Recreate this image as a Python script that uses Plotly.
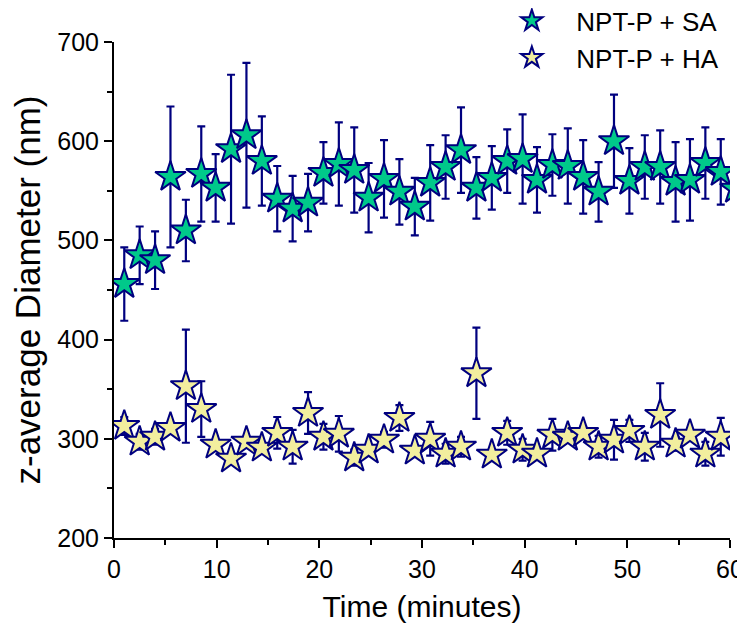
import plotly.graph_objects as go

# ---- data ----
time_sa = [1.0, 2.5, 4.0, 5.5, 7.0, 8.5, 9.9, 11.4, 12.9, 14.4, 15.9, 17.4, 18.9, 20.4,
           21.9, 23.4, 24.8, 26.3, 27.8, 29.3, 30.8, 32.3, 33.8, 35.3, 36.8, 38.3, 39.8,
           41.2, 42.7, 44.2, 45.7, 47.2, 48.7, 50.2, 51.7, 53.2, 54.7, 56.1, 57.6, 59.1, 60.5]
sa_mean = [456, 485, 480, 564, 510, 567, 553, 592, 606, 580, 542, 532, 538, 568,
           577, 571, 543, 562, 549, 534, 558, 574, 591, 553, 563, 580, 582,
           561, 576, 575, 564, 549, 600, 560, 574, 574, 559, 561, 578, 569, 552]
sa_err = [37, 29, 29, 71, 31, 48, 34, 75, 73, 45, 33, 33, 29, 31,
          42, 43, 35, 39, 33, 29, 38, 32, 43, 31, 32, 32, 45,
          33, 31, 38, 37, 30, 47, 33, 32, 37, 40, 41, 36, 33, 35]

time_ha = [1.0, 2.5, 4.0, 5.5, 7.0, 8.5, 9.9, 11.4, 12.9, 14.4, 15.9, 17.4, 18.9, 20.4,
           21.9, 23.4, 24.8, 26.3, 27.8, 29.3, 30.8, 32.3, 33.8, 35.3, 36.8, 38.3, 39.8,
           41.2, 42.7, 44.2, 45.7, 47.2, 48.7, 50.2, 51.7, 53.2, 54.7, 56.1, 57.6, 59.1]
ha_mean = [313, 297, 302, 311, 353, 330, 294, 280, 297, 291, 306, 292, 326, 302,
           305, 281, 289, 299, 321, 288, 300, 285, 292, 366, 284, 306, 289,
           285, 304, 302, 306, 292, 299, 308, 292, 324, 295, 304, 285, 302]
ha_err = [9, 8, 8, 5, 57, 28, 5, 5, 5, 6, 16, 17, 21, 13,
          18, 8, 5, 8, 13, 5, 17, 10, 10, 46, 5, 12, 11,
          6, 16, 5, 6, 11, 20, 11, 14, 32, 7, 5, 12, 19]

series_names = ["NPT-P + SA", "NPT-P + HA"]

NAVY = "#00007F"
FONT = "Arial, Liberation Sans, sans-serif"
PAD = "\u00a0\u00a0"  # small gap between legend symbol and text

fig = go.Figure()
fig.add_trace(go.Scatter(
    x=time_sa, y=sa_mean, mode="markers", name=PAD + series_names[0],
    marker=dict(symbol="star", size=23, color="#00C98A", line=dict(color=NAVY, width=2)),
    error_y=dict(type="data", array=sa_err, color=NAVY, thickness=2.2, width=4),
))
fig.add_trace(go.Scatter(
    x=time_ha, y=ha_mean, mode="markers", name=PAD + series_names[1],
    marker=dict(symbol="star", size=23, color="#F2EE9E", line=dict(color=NAVY, width=2)),
    error_y=dict(type="data", array=ha_err, color=NAVY, thickness=2.2, width=4),
))

axis_common = dict(
    showgrid=False, zeroline=False, showline=True, linecolor="black", linewidth=2,
    ticks="outside", ticklen=8, tickwidth=2, tickcolor="black",
    tickfont=dict(family=FONT, size=25, color="black"),
    minor=dict(ticks="outside", ticklen=5, tickwidth=2, tickcolor="black"),
    mirror=False, automargin=False,
)
fig.update_xaxes(range=[0, 60], dtick=10, minor_dtick=5,
                 title=dict(text="Time (minutes)", font=dict(family=FONT, size=30, color="black"), standoff=14),
                 **axis_common)
fig.update_yaxes(range=[200, 700], dtick=100, minor_dtick=50,
                 title=dict(text="z-average Diameter (nm)", font=dict(family=FONT, size=35, color="black"), standoff=7),
                 **axis_common)

# page body adds an 8px offset, so the figure is 8px smaller and margins compensate
fig.update_layout(
    width=737, height=624,
    margin=dict(l=106, r=15, t=34, b=94, autoexpand=False),
    plot_bgcolor="white", paper_bgcolor="white",
    font=dict(family=FONT, size=25, color="black"),
    legend=dict(x=0.99, y=1.09, xanchor="right", yanchor="top",
                bgcolor="rgba(0,0,0,0)", font=dict(family=FONT, size=26, color="black"),
                tracegroupgap=0, itemwidth=50),
    showlegend=True,
)

fig.write_html("out.html")
